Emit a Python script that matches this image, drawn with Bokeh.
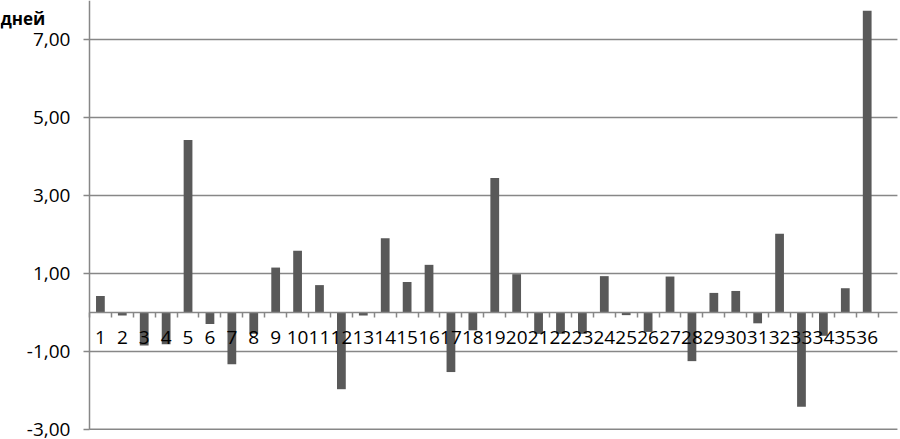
from bokeh.plotting import figure
from bokeh.models import LinearAxis, FixedTicker, Range1d, Label
from bokeh.embed import file_html
from bokeh.resources import INLINE

# ---- data ----
categories = [str(i) for i in range(1, 37)]
values = [0.42, -0.08, -0.85, -0.82, 4.42, -0.30, -1.33, -0.55, 1.15, 1.58,
          0.70, -1.97, -0.08, 1.90, 0.78, 1.22, -1.53, -0.46, 3.45, 0.98,
          -0.55, -0.55, -0.55, 0.93, -0.07, -0.50, 0.92, -1.25, 0.50, 0.55,
          -0.28, 2.02, -2.42, -0.60, 0.62, 7.74]
y_ticks = [-3, -1, 1, 3, 5, 7]
y_tick_labels = ["-3,00", "-1,00", "1,00", "3,00", "5,00", "7,00"]
y_title = "дней"

GRID = "#878787"
BAR = "#595959"
FONT = "Open Sans"

# layout (data-space extents of the drawing area)
X_LEFT, X_RIGHT = -3.56, 37.52      # whole canvas width
X_AXIS, X_END = 0.5, 37.38          # plot area: y-axis position and right end
Y_BOTTOM, Y_TOP = -3.26, 8.0        # whole canvas height
Y_MIN = -3

xs = list(range(1, len(categories) + 1))
boundaries = [i + 0.5 for i in range(0, len(categories) + 1)]

p = figure(width=900, height=439,
           x_range=Range1d(X_LEFT, X_RIGHT), y_range=Range1d(Y_BOTTOM, Y_TOP),
           output_backend="svg", toolbar_location=None,
           x_axis_location=None, y_axis_location=None,
           min_border_left=0, min_border_right=0,
           min_border_top=0, min_border_bottom=0)
p.outline_line_color = None
p.background_fill_color = "white"
p.border_fill_color = "white"
p.grid.visible = False

# horizontal gridlines
p.segment(x0=[X_AXIS] * len(y_ticks), x1=[X_END] * len(y_ticks),
          y0=y_ticks, y1=y_ticks, line_color=GRID, line_width=1.5)

# bars
p.vbar(x=xs, top=values, bottom=0, width=0.4, fill_color=BAR, line_color=None)

# y axis drawn inside the canvas at the plot-area left edge
ya = LinearAxis(fixed_location=X_AXIS, ticker=FixedTicker(ticks=y_ticks),
                major_label_overrides=dict(zip(y_ticks, y_tick_labels)),
                bounds=(Y_MIN, Y_TOP),
                axis_line_color=GRID, axis_line_width=1.5,
                major_tick_line_color=GRID, major_tick_line_width=1.5,
                major_tick_out=6, major_tick_in=0,
                minor_tick_out=0, minor_tick_in=0,
                major_label_standoff=13,
                major_label_text_font=FONT,
                major_label_text_font_size="19px",
                major_label_text_color="black")
p.add_layout(ya, "left")

# zero line with ticks between categories
ax0 = LinearAxis(fixed_location=0, ticker=FixedTicker(ticks=boundaries),
                 bounds=(X_AXIS, X_END),
                 axis_line_color=GRID, axis_line_width=1.5,
                 major_tick_line_color=GRID, major_tick_line_width=1.5,
                 major_tick_out=5, major_tick_in=0,
                 minor_tick_out=0, minor_tick_in=0,
                 major_label_text_alpha=0, major_label_text_font_size="1px")
p.add_layout(ax0, "below")

# category labels
axc = LinearAxis(fixed_location=0, ticker=FixedTicker(ticks=xs),
                 major_label_overrides=dict(zip(xs, categories)),
                 axis_line_color=None, major_tick_line_color=None,
                 major_tick_out=0, major_tick_in=0,
                 minor_tick_out=0, minor_tick_in=0,
                 major_label_standoff=19,
                 major_label_text_font=FONT,
                 major_label_text_font_size="19px",
                 major_label_text_color="black")
p.add_layout(axc, "below")

# axis title
title = Label(x=X_LEFT, y=7.54, text=y_title,
              text_font=FONT, text_font_style="bold", text_font_size="17px",
              text_baseline="alphabetic", text_align="left", text_color="black")
p.add_layout(title)

open("out.html", "w").write(file_html(p, INLINE))
